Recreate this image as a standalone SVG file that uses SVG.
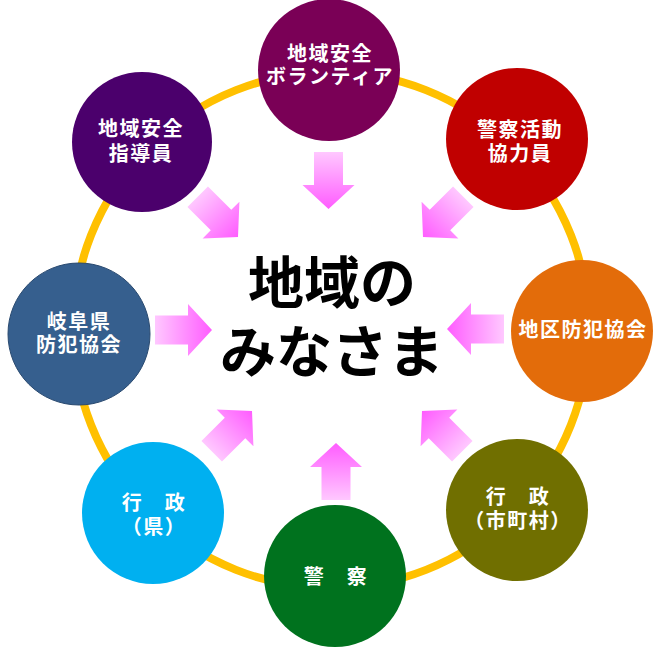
<svg xmlns="http://www.w3.org/2000/svg" width="665" height="648" viewBox="0 0 665 648">
<defs>
<linearGradient id="pg" x1="0" y1="0" x2="1" y2="0">
<stop offset="0" stop-color="#FFC8FF"/>
<stop offset="1" stop-color="#FF5CFF"/>
</linearGradient>
<path id="arr" d="M0,-14.5 H33 V-26 L57,0 L33,26 V14.5 H0 Z"/>
</defs>
<style>
.lbl{font-family:"Noto Sans CJK JP","Noto Sans CJK SC",sans-serif;font-weight:700;font-size:20px;fill:#FFFFFF;text-anchor:middle;letter-spacing:1.5px}
.ctr{font-family:"Noto Sans CJK JP","Noto Sans CJK SC",sans-serif;font-weight:700;font-size:56px;fill:#000000;text-anchor:middle}
.arrow{fill:url(#pg)}
</style>
<rect width="665" height="648" fill="#FFFFFF"/>
<g id="connectors">
<circle cx="331" cy="330" r="258" fill="none" stroke="#FFC000" stroke-width="8"/>
<use href="#arr" class="arrow" transform="translate(328.5,209) rotate(90) translate(-57,0)"/>
<use href="#arr" class="arrow" transform="translate(238,237) rotate(45) translate(-57,0)"/>
<use href="#arr" class="arrow" transform="translate(423,237) rotate(135) translate(-57,0)"/>
<use href="#arr" class="arrow" transform="translate(212,330) rotate(0) translate(-57,0)"/>
<use href="#arr" class="arrow" transform="translate(447,329) rotate(180) translate(-57,0)"/>
<use href="#arr" class="arrow" transform="translate(252,411) rotate(-45) translate(-57,0)"/>
<use href="#arr" class="arrow" transform="translate(336,443) rotate(-90) translate(-57,0)"/>
<use href="#arr" class="arrow" transform="translate(422,411) rotate(-135) translate(-57,0)"/>
</g>
<g id="center">
<text class="ctr" x="332" y="303">地域の</text>
<text class="ctr" x="332" y="372">みなさま</text>
</g>
<g id="n-volunteer">
<circle cx="329" cy="70" r="71" fill="#7A0056"/>
<text class="lbl" x="330" y="61">地域安全</text>
<text class="lbl" x="330" y="84">ボランティア</text>
</g>
<g id="n-shidoin">
<circle cx="142" cy="142" r="70" fill="#4B006C"/>
<text class="lbl" x="141" y="136">地域安全</text>
<text class="lbl" x="141" y="161">指導員</text>
</g>
<g id="n-keisatsu-kyoryoku">
<circle cx="517" cy="139" r="71" fill="#C00000"/>
<text class="lbl" x="520" y="137">警察活動</text>
<text class="lbl" x="520" y="161">協力員</text>
</g>
<g id="n-gifu">
<circle cx="79" cy="334" r="71" fill="#365F8E" stroke="#2A4A70" stroke-width="1"/>
<text class="lbl" x="79" y="329">岐阜県</text>
<text class="lbl" x="79" y="352">防犯協会</text>
</g>
<g id="n-chiku">
<circle cx="582" cy="331" r="71" fill="#E36C0A"/>
<text class="lbl" x="583" y="337">地区防犯協会</text>
</g>
<g id="n-gyosei-ken">
<circle cx="153" cy="513" r="71" fill="#00B0F0"/>
<text class="lbl" x="154" y="510">行　政</text>
<text class="lbl" x="154" y="534">（県）</text>
</g>
<g id="n-keisatsu">
<circle cx="335" cy="576" r="71" fill="#00721E"/>
<text class="lbl" x="336" y="584">警　察</text>
</g>
<g id="n-gyosei-shi">
<circle cx="517" cy="510" r="71" fill="#706F00"/>
<text class="lbl" x="518" y="504">行　政</text>
<text class="lbl" x="518" y="528">（市町村）</text>
</g>
</svg>
